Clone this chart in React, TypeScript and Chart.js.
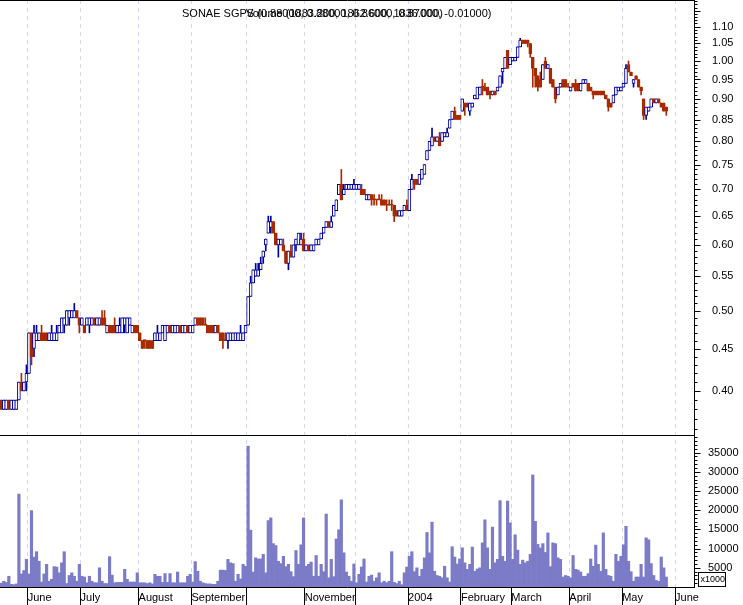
import React, { useEffect, useRef } from 'react';
import { Chart, registerables } from 'chart.js';

Chart.register(...registerables);

const FONT = "'Liberation Sans', Arial, sans-serif";
const BLUE = '#0000a0';
const RED = '#a82a00';
const VOL = '#7b7bc8';
const GRID = '#d4d4f4';

// month boundaries (in trading-day index units) and their labels
const monthTickPositions = [10.5, 31.5, 54.5, 75.5, 97.5, 120.5, 140.5, 161.5, 182.5, 202.5, 225.5, 246.5, 267.5];
const monthLabels = ['June', 'July', 'August', 'September', '', 'November', '', '2004', 'February', 'March', 'April', 'May', 'June'];
const priceTickLabels = ['0.40', '0.45', '0.50', '0.55', '0.60', '0.65', '0.70', '0.75', '0.80', '0.85', '0.90', '0.95', '1.00', '1.05', '1.10'];
const volumeTickLabels = ['5000', '10000', '15000', '20000', '25000', '30000', '35000'];
const titleMain = 'SONAE SGPS (0.88000, 0.88000, 0.86000, 0.87000, -0.01000)';
const titleOverlay = 'Volume (1883.200, 1862.600, 1836.000)';

const opens = [
  0.39, 0.38, 0.38, 0.39, 0.38, 0.38, 0.38, 0.39, 0.41, 0.40,
  0.41, 0.42, 0.47, 0.45, 0.46, 0.46, 0.47, 0.47, 0.47, 0.46,
  0.46, 0.46, 0.46, 0.47, 0.47, 0.48, 0.48, 0.49, 0.49, 0.49,
  0.50, 0.49, 0.48, 0.48, 0.48, 0.48, 0.48, 0.49, 0.48, 0.48,
  0.49, 0.49, 0.47, 0.48, 0.48, 0.48, 0.47, 0.47, 0.47, 0.48,
  0.47, 0.48, 0.47, 0.48, 0.48, 0.47, 0.46, 0.46, 0.46, 0.46,
  0.46, 0.46, 0.46, 0.46, 0.47, 0.46, 0.47, 0.48, 0.47, 0.47,
  0.47, 0.48, 0.47, 0.47, 0.48, 0.47, 0.47, 0.48, 0.49, 0.49,
  0.49, 0.48, 0.48, 0.48, 0.48, 0.47, 0.48, 0.47, 0.47, 0.46,
  0.46, 0.46, 0.46, 0.46, 0.46, 0.46, 0.46, 0.47, 0.48, 0.52,
  0.54, 0.55, 0.55, 0.56, 0.58, 0.60, 0.62, 0.63, 0.64, 0.62,
  0.60, 0.60, 0.60, 0.59, 0.57, 0.59, 0.58, 0.60, 0.60, 0.60,
  0.61, 0.59, 0.60, 0.59, 0.59, 0.60, 0.60, 0.61, 0.62, 0.63,
  0.64, 0.63, 0.65, 0.66, 0.69, 0.71, 0.69, 0.70, 0.70, 0.70,
  0.70, 0.70, 0.70, 0.70, 0.70, 0.68, 0.68, 0.69, 0.68, 0.68,
  0.68, 0.68, 0.68, 0.67, 0.67, 0.67, 0.67, 0.66, 0.65, 0.65,
  0.66, 0.67, 0.66, 0.70, 0.72, 0.72, 0.71, 0.72, 0.73, 0.76,
  0.78, 0.79, 0.81, 0.80, 0.81, 0.80, 0.81, 0.81, 0.83, 0.85,
  0.87, 0.86, 0.86, 0.87, 0.89, 0.89, 0.87, 0.88, 0.90, 0.90,
  0.91, 0.93, 0.93, 0.93, 0.92, 0.91, 0.92, 0.92, 0.93, 0.97,
  0.98, 1.03, 0.99, 1.00, 1.00, 1.01, 1.04, 1.06, 1.06, 1.06,
  1.05, 1.01, 0.98, 0.96, 0.95, 0.95, 1.00, 0.98, 0.98, 0.95,
  0.93, 0.91, 0.93, 0.95, 0.95, 0.93, 0.92, 0.94, 0.94, 0.94,
  0.92, 0.94, 0.94, 0.94, 0.93, 0.92, 0.92, 0.92, 0.92, 0.92,
  0.91, 0.90, 0.89, 0.89, 0.91, 0.92, 0.92, 0.93, 0.94, 0.99,
  0.97, 0.94, 0.96, 0.95, 0.93, 0.90, 0.86, 0.87, 0.88, 0.90,
  0.89, 0.90, 0.89, 0.89, 0.88,
];

const highs = [
  0.39, 0.39, 0.39, 0.39, 0.39, 0.39, 0.39, 0.41, 0.42, 0.41,
  0.43, 0.47, 0.47, 0.48, 0.48, 0.47, 0.48, 0.47, 0.47, 0.47,
  0.48, 0.47, 0.48, 0.48, 0.49, 0.49, 0.50, 0.50, 0.50, 0.51,
  0.50, 0.49, 0.49, 0.48, 0.49, 0.49, 0.49, 0.49, 0.49, 0.49,
  0.50, 0.50, 0.48, 0.48, 0.48, 0.49, 0.48, 0.49, 0.49, 0.49,
  0.49, 0.49, 0.48, 0.48, 0.48, 0.47, 0.46, 0.46, 0.46, 0.46,
  0.46, 0.47, 0.48, 0.47, 0.48, 0.48, 0.48, 0.48, 0.48, 0.48,
  0.48, 0.48, 0.48, 0.48, 0.48, 0.48, 0.48, 0.49, 0.49, 0.49,
  0.49, 0.49, 0.48, 0.48, 0.48, 0.48, 0.48, 0.47, 0.47, 0.47,
  0.47, 0.47, 0.47, 0.47, 0.47, 0.48, 0.47, 0.48, 0.52, 0.55,
  0.56, 0.57, 0.57, 0.58, 0.59, 0.61, 0.65, 0.65, 0.64, 0.62,
  0.61, 0.61, 0.61, 0.59, 0.59, 0.60, 0.60, 0.61, 0.62, 0.62,
  0.62, 0.60, 0.60, 0.60, 0.60, 0.61, 0.61, 0.62, 0.63, 0.64,
  0.64, 0.65, 0.67, 0.68, 0.71, 0.74, 0.71, 0.71, 0.71, 0.71,
  0.72, 0.71, 0.71, 0.71, 0.70, 0.69, 0.69, 0.69, 0.69, 0.68,
  0.69, 0.69, 0.68, 0.68, 0.68, 0.68, 0.67, 0.66, 0.66, 0.66,
  0.67, 0.68, 0.70, 0.73, 0.72, 0.72, 0.73, 0.74, 0.75, 0.78,
  0.80, 0.83, 0.81, 0.81, 0.82, 0.82, 0.82, 0.83, 0.85, 0.87,
  0.88, 0.86, 0.86, 0.90, 0.89, 0.89, 0.89, 0.89, 0.91, 0.93,
  0.93, 0.95, 0.94, 0.93, 0.92, 0.92, 0.92, 0.93, 0.96, 0.98,
  1.01, 1.03, 1.01, 1.01, 1.01, 1.04, 1.065, 1.06, 1.06, 1.06,
  1.05, 1.01, 0.98, 0.96, 0.97, 0.99, 1.01, 0.99, 0.98, 0.95,
  0.93, 0.93, 0.94, 0.95, 0.95, 0.94, 0.93, 0.94, 0.95, 0.94,
  0.94, 0.95, 0.95, 0.94, 0.93, 0.92, 0.92, 0.92, 0.92, 0.92,
  0.91, 0.90, 0.89, 0.91, 0.93, 0.93, 0.93, 0.94, 0.99, 1.00,
  0.97, 0.95, 0.96, 0.95, 0.93, 0.90, 0.88, 0.88, 0.90, 0.90,
  0.90, 0.90, 0.89, 0.89, 0.88,
];

const lows = [
  0.38, 0.38, 0.38, 0.38, 0.38, 0.38, 0.38, 0.39, 0.40, 0.40,
  0.40, 0.42, 0.43, 0.44, 0.46, 0.46, 0.46, 0.46, 0.46, 0.46,
  0.46, 0.46, 0.46, 0.47, 0.47, 0.47, 0.48, 0.48, 0.49, 0.49,
  0.49, 0.47, 0.48, 0.47, 0.48, 0.47, 0.48, 0.48, 0.48, 0.48,
  0.48, 0.48, 0.47, 0.47, 0.47, 0.47, 0.47, 0.47, 0.47, 0.47,
  0.47, 0.48, 0.47, 0.47, 0.47, 0.46, 0.45, 0.45, 0.45, 0.45,
  0.45, 0.46, 0.46, 0.46, 0.47, 0.46, 0.47, 0.47, 0.47, 0.47,
  0.47, 0.47, 0.47, 0.47, 0.47, 0.47, 0.47, 0.48, 0.48, 0.48,
  0.48, 0.48, 0.47, 0.47, 0.47, 0.47, 0.47, 0.46, 0.45, 0.46,
  0.45, 0.46, 0.46, 0.46, 0.46, 0.46, 0.46, 0.47, 0.48, 0.52,
  0.54, 0.55, 0.55, 0.56, 0.57, 0.59, 0.62, 0.62, 0.62, 0.60,
  0.58, 0.60, 0.59, 0.57, 0.56, 0.58, 0.58, 0.59, 0.60, 0.60,
  0.59, 0.59, 0.59, 0.59, 0.59, 0.60, 0.60, 0.61, 0.62, 0.63,
  0.63, 0.63, 0.65, 0.66, 0.69, 0.68, 0.69, 0.70, 0.70, 0.70,
  0.70, 0.70, 0.70, 0.69, 0.69, 0.68, 0.68, 0.67, 0.67, 0.67,
  0.68, 0.67, 0.67, 0.66, 0.67, 0.66, 0.64, 0.65, 0.65, 0.65,
  0.66, 0.66, 0.66, 0.70, 0.70, 0.71, 0.71, 0.72, 0.73, 0.76,
  0.78, 0.79, 0.80, 0.80, 0.79, 0.80, 0.81, 0.81, 0.83, 0.85,
  0.85, 0.85, 0.85, 0.87, 0.86, 0.88, 0.86, 0.88, 0.90, 0.90,
  0.91, 0.91, 0.92, 0.91, 0.90, 0.91, 0.91, 0.92, 0.93, 0.94,
  0.98, 0.98, 0.99, 1.00, 1.00, 1.01, 1.04, 1.05, 1.05, 1.04,
  1.01, 0.93, 0.93, 0.92, 0.93, 0.95, 0.98, 0.98, 0.94, 0.93,
  0.89, 0.91, 0.93, 0.93, 0.93, 0.93, 0.92, 0.93, 0.92, 0.92,
  0.92, 0.94, 0.94, 0.92, 0.92, 0.90, 0.91, 0.91, 0.91, 0.91,
  0.90, 0.87, 0.88, 0.89, 0.91, 0.92, 0.92, 0.93, 0.94, 0.97,
  0.96, 0.93, 0.95, 0.93, 0.91, 0.85, 0.85, 0.87, 0.88, 0.89,
  0.89, 0.89, 0.88, 0.87, 0.86,
];

const closes = [
  0.38, 0.39, 0.39, 0.38, 0.39, 0.39, 0.39, 0.41, 0.40, 0.41,
  0.42, 0.47, 0.44, 0.47, 0.47, 0.47, 0.46, 0.46, 0.46, 0.47,
  0.47, 0.47, 0.47, 0.48, 0.49, 0.49, 0.50, 0.50, 0.50, 0.50,
  0.49, 0.48, 0.49, 0.47, 0.49, 0.49, 0.49, 0.48, 0.49, 0.49,
  0.48, 0.48, 0.48, 0.47, 0.47, 0.47, 0.48, 0.48, 0.49, 0.49,
  0.49, 0.49, 0.48, 0.47, 0.47, 0.46, 0.45, 0.46, 0.45, 0.45,
  0.45, 0.47, 0.47, 0.47, 0.48, 0.48, 0.48, 0.47, 0.48, 0.48,
  0.48, 0.47, 0.48, 0.48, 0.47, 0.48, 0.48, 0.49, 0.48, 0.48,
  0.48, 0.48, 0.47, 0.47, 0.47, 0.48, 0.47, 0.46, 0.46, 0.46,
  0.47, 0.47, 0.47, 0.47, 0.47, 0.47, 0.47, 0.48, 0.52, 0.54,
  0.56, 0.56, 0.56, 0.57, 0.59, 0.61, 0.64, 0.64, 0.62, 0.60,
  0.61, 0.61, 0.59, 0.57, 0.59, 0.58, 0.60, 0.61, 0.62, 0.61,
  0.59, 0.60, 0.59, 0.60, 0.60, 0.61, 0.61, 0.62, 0.63, 0.64,
  0.63, 0.64, 0.67, 0.68, 0.71, 0.68, 0.70, 0.71, 0.71, 0.71,
  0.71, 0.71, 0.71, 0.69, 0.69, 0.69, 0.69, 0.68, 0.68, 0.68,
  0.68, 0.67, 0.67, 0.67, 0.67, 0.67, 0.65, 0.65, 0.66, 0.66,
  0.67, 0.66, 0.70, 0.72, 0.71, 0.71, 0.73, 0.74, 0.75, 0.78,
  0.80, 0.81, 0.80, 0.81, 0.79, 0.82, 0.82, 0.82, 0.85, 0.87,
  0.85, 0.85, 0.85, 0.90, 0.88, 0.88, 0.89, 0.89, 0.91, 0.93,
  0.93, 0.93, 0.92, 0.91, 0.91, 0.92, 0.91, 0.93, 0.96, 0.98,
  1.01, 0.98, 1.01, 1.01, 1.01, 1.04, 1.06, 1.05, 1.05, 1.05,
  1.02, 0.98, 0.96, 0.93, 0.93, 0.99, 0.98, 0.99, 0.94, 0.93,
  0.90, 0.93, 0.94, 0.93, 0.93, 0.93, 0.93, 0.93, 0.92, 0.92,
  0.94, 0.95, 0.95, 0.92, 0.92, 0.91, 0.91, 0.91, 0.91, 0.91,
  0.90, 0.88, 0.88, 0.91, 0.93, 0.93, 0.93, 0.94, 0.98, 0.97,
  0.96, 0.95, 0.95, 0.93, 0.92, 0.86, 0.88, 0.88, 0.90, 0.89,
  0.90, 0.89, 0.88, 0.87, 0.87,
];

// volume in thousands
const volumes = [
  1000, 1500, 1200, 2800, 700, 600, 800, 24200, 3400, 4300,
  7200, 3400, 19900, 7800, 9200, 6700, 1300, 3400, 5900, 1500,
  2000, 5300, 5200, 3700, 6300, 9200, 900, 3000, 3700, 2800,
  1500, 5900, 2800, 2600, 1100, 2800, 1500, 1100, 1100, 5000,
  1500, 900, 900, 7900, 3100, 1100, 1200, 1200, 1200, 4600,
  2000, 1300, 1300, 1300, 3700, 1100, 1100, 1100, 900, 1100,
  800, 3300, 2800, 2800, 1200, 3500, 1200, 3500, 1100, 1100,
  3900, 1100, 1100, 1100, 2800, 3300, 1300, 6600, 4100, 1500,
  1100, 900, 800, 800, 700, 700, 1500, 4400, 4400, 4300,
  7200, 6300, 6100, 1500, 3300, 2100, 5900, 5400, 36700, 14800,
  3900, 7600, 7300, 7300, 8500, 3700, 17300, 18000, 11300, 10800,
  6700, 6100, 8000, 5300, 5900, 4000, 2700, 9500, 5900, 11000,
  18000, 5400, 5900, 6500, 2800, 8200, 2800, 5900, 4000, 19000,
  2400, 7200, 2700, 12500, 14900, 22700, 8900, 3900, 2800, 1500,
  6000, 1100, 3300, 5200, 7300, 1300, 2800, 3100, 1500, 2400,
  3700, 1100, 1500, 1100, 1500, 9200, 1200, 900, 1500, 600,
  3700, 5200, 8000, 9200, 4000, 5000, 2800, 4600, 7600, 14200,
  8900, 16900, 4100, 3000, 2800, 2400, 5400, 2400, 1300, 10500,
  7800, 6000, 7300, 10200, 6300, 4600, 5900, 10400, 4100, 4700,
  5000, 11500, 17500, 10200, 4600, 15600, 6300, 7200, 22500, 8000,
  6700, 22400, 16700, 7200, 13600, 9600, 5900, 7000, 6300, 6700,
  8500, 29200, 17100, 11100, 10200, 11300, 9000, 14100, 5300, 11500,
  11300, 7600, 7200, 2600, 3000, 2800, 2400, 8200, 4600, 4400,
  3900, 2800, 2800, 3500, 7300, 5400, 10900, 5900, 4100, 14100,
  4600, 3000, 2800, 1500, 8500, 6700, 8000, 11000, 15800, 6700,
  4000, 1500, 2600, 2600, 5900, 2600, 12800, 12300, 6100, 3000,
  1700, 1500, 7800, 5000, 2600,
];

export default function App() {
  const ref = useRef<HTMLCanvasElement>(null);

  useEffect(() => {
    const canvas = ref.current;
    if (!canvas) return;

    const up = closes.map((c, i) => c > opens[i]);
    const wicks = closes.map((_, i) => ({ x: i, y: [lows[i], highs[i]] }));
    const bodies = closes.map((c, i) => ({ x: i, y: [Math.min(opens[i], c), Math.max(opens[i], c)] }));
    const vols = volumes.map((v, i) => ({ x: i, y: v }));

    const priceMarks: number[] = [];
    for (let k = 36; k <= 118; k++) priceMarks.push(k / 100);
    const volMarks: number[] = [];
    for (let k = 1; k <= 39; k++) volMarks.push(k * 1000);

    const fixSize = (w?: number, h?: number) => (s: any) => {
      if (w !== undefined) s.width = w;
      if (h !== undefined) s.height = h;
      s.paddingTop = 0; s.paddingBottom = 0; s.paddingLeft = 0; s.paddingRight = 0;
    };

    const decor = {
      id: 'decor',
      afterDraw(chart: any) {
        const { ctx, chartArea } = chart;
        const py = chart.scales.y;
        const vy = chart.scales.yv;
        ctx.save();
        ctx.strokeStyle = '#000';
        ctx.lineWidth = 1;
        ctx.beginPath();
        ctx.moveTo(0, chartArea.top + 0.5);
        ctx.lineTo(chartArea.right + 1, chartArea.top + 0.5);
        const sep = Math.round(py.bottom) + 0.5;
        ctx.moveTo(0, sep);
        ctx.lineTo(chartArea.right + 1, sep);
        const axisX = Math.round(py.left) + 0.5;
        for (const v of priceMarks) {
          const y = Math.round(py.getPixelForValue(v)) + 0.5;
          if (y < py.top || y > py.bottom) continue;
          const major = Math.round(v * 100) % 5 === 0;
          ctx.moveTo(axisX, y);
          ctx.lineTo(axisX + (major ? 6 : 3), y);
        }
        for (const v of volMarks) {
          const y = Math.round(vy.getPixelForValue(v)) + 0.5;
          if (y < vy.top || y > vy.bottom) continue;
          const major = v % 5000 === 0;
          ctx.moveTo(axisX, y);
          ctx.lineTo(axisX + (major ? 6 : 3), y);
        }
        ctx.stroke();
        // x1000 box
        const bx = Math.round(vy.left) + 4.5;
        const by = Math.round(vy.bottom) - 14.5;
        ctx.strokeRect(bx, by, 27, 14);
        ctx.fillStyle = '#000';
        ctx.font = `9px ${FONT}`;
        ctx.textBaseline = 'middle';
        ctx.textAlign = 'left';
        ctx.fillText('x1000', bx + 2, by + 7.5);
        // title
        ctx.font = `11px ${FONT}`;
        ctx.textBaseline = 'alphabetic';
        ctx.fillText(titleMain, 182, 17);
        ctx.fillText(titleOverlay, 246, 17);
        ctx.restore();
      },
    };

    const chart = new Chart(canvas, {
      type: 'bar',
      data: {
        datasets: [
          {
            label: 'Volume',
            data: vols as any,
            yAxisID: 'yv',
            backgroundColor: VOL,
            borderWidth: 0,
            barPercentage: 1,
            categoryPercentage: 1,
            grouped: false,
            order: 3,
          } as any,
          {
            label: 'Range',
            data: wicks as any,
            yAxisID: 'y',
            backgroundColor: up.map((u) => (u ? BLUE : RED)),
            borderWidth: 0,
            barThickness: 1,
            grouped: false,
            order: 2,
          } as any,
          {
            label: 'Body',
            data: bodies as any,
            yAxisID: 'y',
            backgroundColor: up.map((u) => (u ? '#ffffff' : RED)),
            borderColor: up.map((u) => (u ? BLUE : RED)),
            borderWidth: 1,
            borderSkipped: false,
            barThickness: 3,
            minBarLength: 1,
            grouped: false,
            order: 1,
          } as any,
        ],
      },
      options: {
        responsive: false,
        animation: false,
        events: [],
        layout: { padding: 0 },
        plugins: {
          legend: { display: false },
          tooltip: { enabled: false },
          title: { display: false },
        },
        scales: {
          x: {
            type: 'linear',
            position: 'bottom',
            min: -0.5,
            max: 275,
            offset: false,
            bounds: 'data',
            afterBuildTicks: (s: any) => {
              s.ticks = monthTickPositions.map((v) => ({ value: v }));
            },
            afterFit: fixSize(undefined, 18),
            grid: {
              offset: false,
              color: GRID,
              lineWidth: 1,
              drawOnChartArea: true,
              drawTicks: true,
              tickLength: 18,
              tickColor: '#000',
              tickWidth: 1,
            },
            border: { display: true, color: '#000', width: 1, dash: [4, 4] },
            ticks: {
              autoSkip: false,
              maxRotation: 0,
              minRotation: 0,
              align: 'start',
              padding: -14,
              color: '#000',
              font: { family: FONT, size: 11 },
              callback: (_v: any, i: number) => monthLabels[i] ?? '',
            },
          } as any,
          y: {
            type: 'logarithmic',
            position: 'right',
            stack: 'panels',
            stackWeight: 435,
            min: 0.3539,
            max: 1.1847,
            bounds: 'data',
            afterBuildTicks: (s: any) => {
              s.ticks = priceTickLabels.map((t) => ({ value: parseFloat(t) }));
            },
            afterFit: fixSize(49, undefined),
            grid: { display: false, drawTicks: false },
            border: { display: true, color: '#000', width: 1 },
            ticks: {
              autoSkip: false,
              padding: 18,
              color: '#000',
              font: { family: FONT, size: 11 },
              callback: (_v: any, i: number) => priceTickLabels[i] ?? '',
            },
          } as any,
          yv: {
            type: 'linear',
            position: 'right',
            stack: 'panels',
            stackWeight: 152,
            min: 0,
            max: 39600,
            bounds: 'data',
            afterBuildTicks: (s: any) => {
              s.ticks = volumeTickLabels.map((t) => ({ value: Number(t) }));
            },
            afterFit: fixSize(49, undefined),
            grid: { display: false, drawTicks: false },
            border: { display: true, color: '#000', width: 1 },
            ticks: {
              autoSkip: false,
              padding: 14,
              color: '#000',
              font: { family: FONT, size: 11 },
              callback: (_v: any, i: number) => volumeTickLabels[i] ?? '',
            },
          } as any,
        },
      },
      plugins: [decor],
    });

    return () => chart.destroy();
  }, []);

  return (
    <div style={{ position: 'fixed', left: 0, top: 0, width: 743, height: 605, background: '#ffffff' }}>
      <canvas ref={ref} width={743} height={605} style={{ display: 'block', width: 743, height: 605 }} />
    </div>
  );
}
